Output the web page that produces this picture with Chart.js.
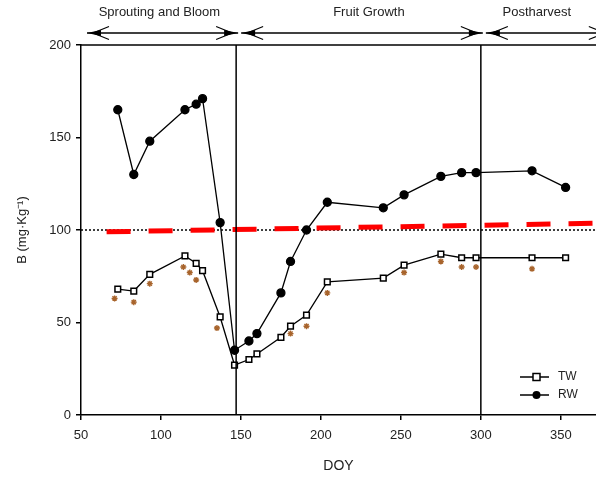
<!DOCTYPE html>
<html>
<head>
<meta charset="utf-8">
<script src="https://cdn.jsdelivr.net/npm/chart.js@4.4.1/dist/chart.umd.min.js"></script>
<style>
  body { margin: 0; background: #fff; }
  #wrap { width: 596px; height: 479px; }
</style>
</head>
<body>
<div id="wrap"><canvas id="chart" width="596" height="479"></canvas></div>
<script>
// sampling days and B concentrations
const doy = [73, 83, 93, 115, 122, 126, 137, 146, 155, 160, 175, 181, 191, 204, 239, 252, 275, 288, 297, 332, 353];
const tw = [68, 67, 76, 86, 82, 78, 53, 27, 30, 33, 42, 48, 54, 72, 74, 81, 87, 85, 85, 85, 85];
const rw = [165, 130, 148, 165, 168, 171, 104, 35, 40, 44, 66, 83, 100, 115, 112, 119, 129, 131, 131, 132, 123];

// significance asterisks under TW
const sigDoy = [71, 83, 93, 114, 118, 122, 135, 181, 191, 204, 252, 275, 288, 297, 332];
const sigY = [63, 61, 71, 80, 77, 73, 47, 44, 48, 66, 77, 83, 80, 80, 79];

// reference lines
const refDoy = [50, 372];
const refLevel = [100, 100];
const trendDoy = [66, 372];
const trendLevel = [99, 103.7];

// phases
const phaseNames = ['Sprouting and Bloom', 'Fruit Growth', 'Postharvest'];
const phaseBounds = [50, 147, 300, 380];
const phaseLabelDoy = [99, 230, 335];

const xTicks = [50, 100, 150, 200, 250, 300, 350];
const yTicks = [0, 50, 100, 150, 200];

const FONT = "'Liberation Sans', Arial, sans-serif";

function pts(xs, ys) {
    return xs.map((x, i) => ({x: x, y: ys[i]}));
}

function arrowHead(ctx, tx, y, d) {
    ctx.beginPath();
    ctx.moveTo(tx, y);
    ctx.lineTo(tx - d * 14, y - 3);
    ctx.lineTo(tx - d * 14, y + 3);
    ctx.closePath();
    ctx.fill();
    ctx.beginPath();
    ctx.moveTo(tx - d * 6, y);
    ctx.lineTo(tx - d * 22, y - 6.5);
    ctx.moveTo(tx - d * 6, y);
    ctx.lineTo(tx - d * 22, y + 6.5);
    ctx.stroke();
}

const extras = {
    id: 'extras',
    afterDraw(chart) {
        const ctx = chart.ctx;
        const area = chart.chartArea;
        const xs = chart.scales.x;
        ctx.save();
        ctx.strokeStyle = '#000';
        ctx.fillStyle = '#000';

        // top frame line
        ctx.lineWidth = 1.5;
        ctx.beginPath();
        ctx.moveTo(area.left, area.top);
        ctx.lineTo(area.right, area.top);
        ctx.stroke();

        // phase boundaries
        for (let i = 1; i < phaseBounds.length - 1; i++) {
            const px = xs.getPixelForValue(phaseBounds[i]);
            ctx.beginPath();
            ctx.moveTo(px, area.top);
            ctx.lineTo(px, area.bottom);
            ctx.stroke();
        }

        // arrows and phase names
        const ay = area.top - 12;
        ctx.font = '13px ' + FONT;
        ctx.textAlign = 'center';
        ctx.textBaseline = 'middle';
        for (let i = 0; i < phaseNames.length; i++) {
            const a = xs.getPixelForValue(phaseBounds[i]) + (i === 0 ? 6 : 5);
            const b = xs.getPixelForValue(phaseBounds[i + 1]) + 2;
            ctx.lineWidth = 1.5;
            ctx.beginPath();
            ctx.moveTo(a, ay);
            ctx.lineTo(b, ay);
            ctx.stroke();
            ctx.lineWidth = 1.2;
            arrowHead(ctx, a, ay, -1);
            arrowHead(ctx, b, ay, 1);
            ctx.fillStyle = '#222';
            ctx.fillText(phaseNames[i], xs.getPixelForValue(phaseLabelDoy[i]), 12);
            ctx.fillStyle = '#000';
        }

        // legend
        const lx = 520, ly = [377, 395];
        const names = ['TW', 'RW'];
        ctx.font = '12px ' + FONT;
        ctx.textAlign = 'left';
        for (let i = 0; i < 2; i++) {
            ctx.lineWidth = 1.5;
            ctx.strokeStyle = '#000';
            ctx.beginPath();
            ctx.moveTo(lx, ly[i]);
            ctx.lineTo(lx + 29, ly[i]);
            ctx.stroke();
            if (i === 0) {
                ctx.fillStyle = '#fff';
                ctx.fillRect(lx + 13, ly[i] - 3.5, 7, 7);
                ctx.strokeRect(lx + 13, ly[i] - 3.5, 7, 7);
            } else {
                ctx.fillStyle = '#000';
                ctx.beginPath();
                ctx.arc(lx + 16.5, ly[i], 4, 0, Math.PI * 2);
                ctx.fill();
            }
            ctx.fillStyle = '#222';
            ctx.fillText(names[i], lx + 38, ly[i]);
        }
        ctx.restore();
    }
};

new Chart(document.getElementById('chart'), {
    type: 'line',
    data: {
        datasets: [
            {
                label: 'TW',
                data: pts(doy, tw),
                borderColor: '#000',
                borderWidth: 1.3,
                pointStyle: 'rect',
                pointRadius: 4,
                pointBackgroundColor: '#fff',
                pointBorderColor: '#000',
                pointBorderWidth: 1.5,
                order: 1
            }, {
                label: 'RW',
                data: pts(doy, rw),
                borderColor: '#000',
                borderWidth: 1.3,
                pointStyle: 'circle',
                pointRadius: 4,
                pointBackgroundColor: '#000',
                pointBorderColor: '#000',
                order: 2
            }, {
                label: 'sig',
                type: 'scatter',
                data: pts(sigDoy, sigY),
                pointStyle: 'star',
                pointRadius: 3,
                pointBorderWidth: 1.4,
                pointBorderColor: '#a8642c',
                order: 3
            }, {
                label: 'trend',
                data: pts(trendDoy, trendLevel),
                borderColor: '#ff0000',
                borderWidth: 5,
                borderDash: [24, 18],
                pointRadius: 0,
                order: 4
            }, {
                label: 'ref',
                data: pts(refDoy, refLevel),
                borderColor: '#000',
                borderWidth: 1.5,
                borderDash: [2, 2],
                pointRadius: 0,
                order: 5
            }
        ]
    },
    options: {
        responsive: false,
        animation: false,
        layout: {
            autoPadding: false,
            padding: {top: 45, right: 0, left: 0, bottom: 0}
        },
        plugins: {
            legend: {display: false},
            tooltip: {enabled: false}
        },
        scales: {
            x: {
                type: 'linear',
                min: 50,
                max: 372,
                afterBuildTicks: (s) => { s.ticks = xTicks.map(v => ({value: v})); },
                afterFit: (s) => { s.height = 64; s.paddingRight = 0; s.paddingLeft = 0; },
                grid: {drawOnChartArea: false, color: '#000', lineWidth: 1.5, tickLength: 5},
                border: {color: '#000', width: 1.5},
                ticks: {color: '#222', font: {family: FONT, size: 13}, padding: 8, maxRotation: 0},
                title: {
                    display: true,
                    text: 'DOY',
                    color: '#222',
                    font: {family: FONT, size: 14},
                    padding: {top: 0, bottom: 4}
                }
            },
            y: {
                min: 0,
                max: 200,
                afterBuildTicks: (s) => { s.ticks = yTicks.map(v => ({value: v})); },
                afterFit: (s) => { s.width = 81; },
                grid: {drawOnChartArea: false, color: '#000', lineWidth: 1.5, tickLength: 5},
                border: {color: '#000', width: 1.5},
                ticks: {color: '#222', font: {family: FONT, size: 13}, padding: 5},
                title: {
                    display: true,
                    text: 'B (mg·Kg⁻¹)',
                    color: '#222',
                    font: {family: FONT, size: 13},
                    padding: {top: 15, bottom: 0}
                }
            }
        }
    },
    plugins: [extras]
});
</script>
</body>
</html>
